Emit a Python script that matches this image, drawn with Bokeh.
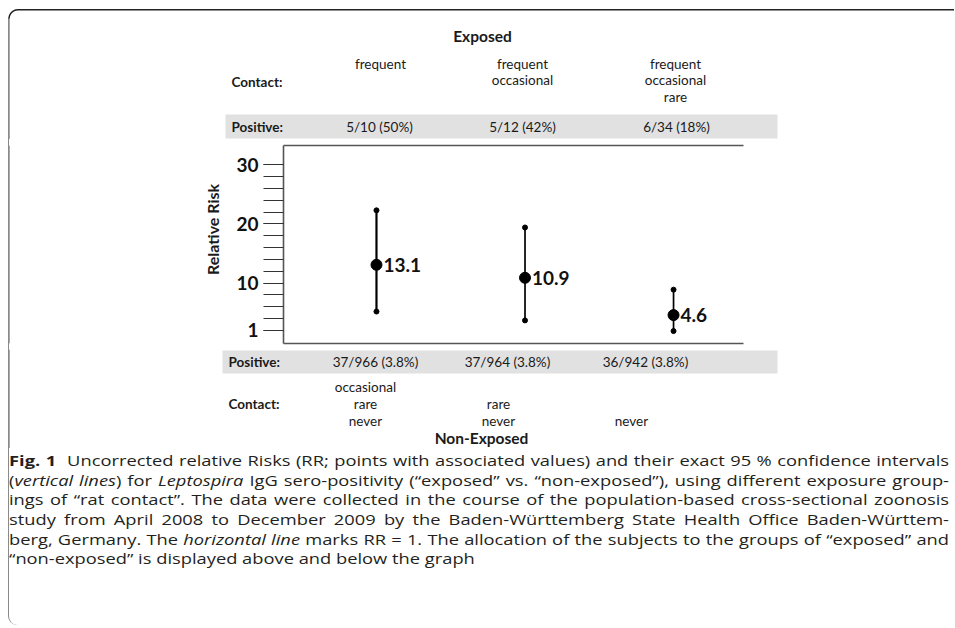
import numpy as np
from bokeh.plotting import figure
from bokeh.models import FixedTicker, LinearAxis, Range1d, Div, ColumnDataSource
from bokeh.layouts import column, row
from bokeh.core.properties import value
from bokeh.embed import file_html
from bokeh.resources import INLINE

# ---------------- data ----------------
groups = [1, 2, 3]
rr = [13.1, 10.9, 4.6]
rr_labels = ["13.1", "10.9", "4.6"]
ci_upper = [22.3, 19.4, 8.9]
ci_lower = [5.2, 3.7, 1.9]

exposed_contact = [["frequent"], ["frequent", "occasional"], ["frequent", "occasional", "rare"]]
exposed_positive = ["5/10 (50%)", "5/12 (42%)", "6/34 (18%)"]
nonexposed_positive = ["37/966 (3.8%)", "37/964 (3.8%)", "36/942 (3.8%)"]
nonexposed_contact = [["occasional", "rare", "never"], ["rare", "never"], ["never"]]

ytick_pos = [2, 10, 20, 30]
ytick_labels = ["1", "10", "20", "30"]
yminor = list(range(2, 31, 2))

caption_lines = [
    "<b>Fig. 1</b>&nbsp; Uncorrected relative Risks (RR; points with associated values) and their exact 95 % confidence intervals",
    "(<i>vertical lines</i>) for <i>Leptospira</i> IgG sero-positivity (\u201cexposed\u201d vs. \u201cnon-exposed\u201d), using different exposure group-",
    "ings of \u201crat contact\u201d. The data were collected in the course of the population-based cross-sectional zoonosis",
    "study from April 2008 to December 2009 by the Baden-W\u00fcrttemberg State Health Office Baden-W\u00fcrttem-",
    "berg, Germany. The <i>horizontal line</i> marks RR = 1. The allocation of the subjects to the groups of \u201cexposed\u201d and",
    "\u201cnon-exposed\u201d is displayed above and below the graph",
]

FONT = "Lato"
CAP_FONT = "Open Sans"
TXT = "#1a1a1a"
BAND = "#e1e1e1"
FRAME_TOP = "#222222"
FRAME_LEFT = "#8a8a8a"
FX = 8.5  # x of the outer frame's left line

W = 954
HA, HR, HD, HCAP = 139, 210, 99, 179
BW = 228


def canvas(width, height, y0=0):
    f = figure(width=width, height=height, output_backend="svg", toolbar_location=None,
               x_range=Range1d(0, width), y_range=Range1d(y0 + height, y0),
               x_axis_location=None, y_axis_location=None, min_border=0)
    f.grid.visible = False
    f.outline_line_color = None
    f.background_fill_color = None
    f.border_fill_color = None
    return f


def texts(f, xs, ys, labels, size=13.5, bold=False, align="center", angle=0.0):
    f.text(x=xs, y=ys, text=labels, angle=angle, text_align=align, text_baseline="middle",
           text_font=value(FONT), text_font_size=f"{size}px",
           text_font_style="bold" if bold else "normal", text_color=TXT)


def left_line(f, y0, y1):
    f.quad(left=[FX - 0.75], right=[FX + 0.75], top=[y0], bottom=[y1],
           fill_color=FRAME_LEFT, line_color=None)


# ---------------- header (Exposed) ----------------
A = canvas(W, HA, 0)
A.quad(left=[225], right=[777], top=[114], bottom=[138], fill_color=BAND, line_color=None)
texts(A, [482], [35], ["Exposed"], 15.5, True)
texts(A, [231], [81], ["Contact:"], 13.5, True, "left")
top_cx = [380, 522, 675]
for cx, lines in zip(top_cx, exposed_contact):
    texts(A, [cx] * len(lines), [63 + 16.5 * i for i in range(len(lines))], lines)
texts(A, [231], [126], ["Positive:"], 13.5, True, "left")
texts(A, [379, 522, 676], [126] * 3, exposed_positive)
# outer frame: rounded top-left corner
r = 9.0
TY = 9.3
t = np.linspace(np.pi, 1.5 * np.pi, 20)
cxr, cyr = FX + r, TY + r
A.line(x=list(cxr + r * np.cos(t)), y=list(cyr + r * np.sin(t)), line_color=FRAME_TOP, line_width=1.5)
A.line(x=[cxr, W + 20], y=[TY, TY], line_color=FRAME_TOP, line_width=1.5)
left_line(A, cyr, HA)

# ---------------- left strip with axis title ----------------
B = canvas(BW, HR, HA)
left_line(B, HA, HA + HR)
texts(B, [212], [228], ["Relative Risk"], 16, True, "center", np.pi / 2)

# ---------------- main chart ----------------
C = figure(width=W - BW, height=HR, output_backend="svg", toolbar_location=None,
           x_range=Range1d(0.374, 3.471), y_range=Range1d(-0.2, 33.25),
           min_border_left=283 - BW, min_border_right=W - 283 - 460,
           min_border_top=6, min_border_bottom=HR - 6 - 198)
C.grid.visible = False
C.outline_line_color = None
C.background_fill_color = "white"
C.border_fill_color = "white"

ya = C.yaxis[0]
ya.ticker = FixedTicker(ticks=ytick_pos, minor_ticks=yminor)
ya.major_label_overrides = {tk: lb for tk, lb in zip(ytick_pos, ytick_labels)}
ya.major_tick_out = 20
ya.major_tick_in = 0
ya.minor_tick_out = 20
ya.minor_tick_in = 0
ya.major_tick_line_color = "#333333"
ya.minor_tick_line_color = "#333333"
ya.major_tick_line_width = 1.2
ya.minor_tick_line_width = 1.2
ya.axis_line_color = "#555555"
ya.axis_line_width = 1.6
ya.major_label_standoff = 5
ya.major_label_text_font = FONT
ya.major_label_text_font_style = "bold"
ya.major_label_text_font_size = "19px"
ya.major_label_text_color = "#111111"


def style_plain(ax):
    ax.ticker = FixedTicker(ticks=[])
    ax.major_label_text_font_size = "0px"
    ax.major_label_standoff = 0
    ax.major_tick_out = 0
    ax.minor_tick_out = 0
    ax.major_tick_line_color = None
    ax.minor_tick_line_color = None
    ax.axis_line_color = "#555555"
    ax.axis_line_width = 1.6


style_plain(C.xaxis[0])
top_ax = LinearAxis()
style_plain(top_ax)
C.add_layout(top_ax, "above")

src = ColumnDataSource(dict(x=groups, rr=rr, lo=ci_lower, hi=ci_upper, lab=rr_labels,
                            lw=[2.2, 1.7, 1.7]))
C.segment(x0="x", y0="lo", x1="x", y1="hi", source=src, line_color="black", line_width="lw")
C.scatter(x="x", y="hi", source=src, marker="circle", size=5, color="black")
C.scatter(x="x", y="lo", source=src, marker="circle", size=5, color="black")
C.scatter(x="x", y="rr", source=src, marker="circle", size=11, color="black")
C.text(x="x", y="rr", text="lab", source=src, x_offset=7, text_align="left",
       text_baseline="middle", text_font=value(FONT), text_font_style="bold",
       text_font_size="19px", text_color="#111111")

# ---------------- footer (Non-Exposed) ----------------
Y0D = HA + HR
D = canvas(W, HD, Y0D)
D.quad(left=[222], right=[777], top=[350], bottom=[373], fill_color=BAND, line_color=None)
texts(D, [228], [361], ["Positive:"], 13.5, True, "left")
texts(D, [375, 507, 645], [361] * 3, nonexposed_positive)
texts(D, [228], [403], ["Contact:"], 13.5, True, "left")
bot_cx = [365, 498, 631]
for cx, lines in zip(bot_cx, nonexposed_contact):
    n = len(lines)
    texts(D, [cx] * n, [420 - 17 * (n - 1 - i) for i in range(n)], lines)
texts(D, [481], [437], ["Non-Exposed"], 15.5, True)
left_line(D, Y0D, Y0D + HD)

# ---------------- caption ----------------
SCALE = 1.22
text_w = 940.0
rows_html = []
for i, ln in enumerate(caption_lines):
    al = "left" if i == len(caption_lines) - 1 else "justify"
    rows_html.append(f'<div style="white-space:nowrap;height:19.7px;text-align:{al};'
                     f'text-align-last:{al};">{ln}</div>')
html = (f'<div style="box-sizing:border-box;height:{HCAP}px;width:{W}px;margin:0;'
        f'padding-left:{FX - 0.75}px;overflow:hidden;">'
        f'<div style="box-sizing:border-box;height:{HCAP - 2}px;margin:0;'
        f'border-left:1.5px solid {FRAME_LEFT};border-bottom-left-radius:9px;'
        f'padding:3px 0 0 0.5px;overflow:hidden;">'
        f'<div style="font-family:\'{CAP_FONT}\';font-size:15px;line-height:19.7px;color:#231f20;'
        f'width:{text_w / SCALE:.1f}px;transform:scaleX({SCALE});transform-origin:0 0;">'
        + "".join(rows_html) + "</div></div></div>")
cap = Div(text=html, width=W, height=HCAP, styles={"overflow": "hidden", "margin": "0"})

# continuous left frame edge behind the transparent canvases
stripe = (f"linear-gradient(to right, transparent {FX - 0.75}px, {FRAME_LEFT} {FX - 0.75}px, "
          f"{FRAME_LEFT} {FX + 0.75}px, transparent {FX + 0.75}px)")
lay = column(A, row(B, C), D, cap,
             styles={"background-color": "white", "background-image": stripe,
                     "background-repeat": "no-repeat", "background-position": "0px 18px",
                     "background-size": f"100% {HA + HR + HD - 18}px"})
open("out.html", "w").write(file_html(lay, INLINE))
